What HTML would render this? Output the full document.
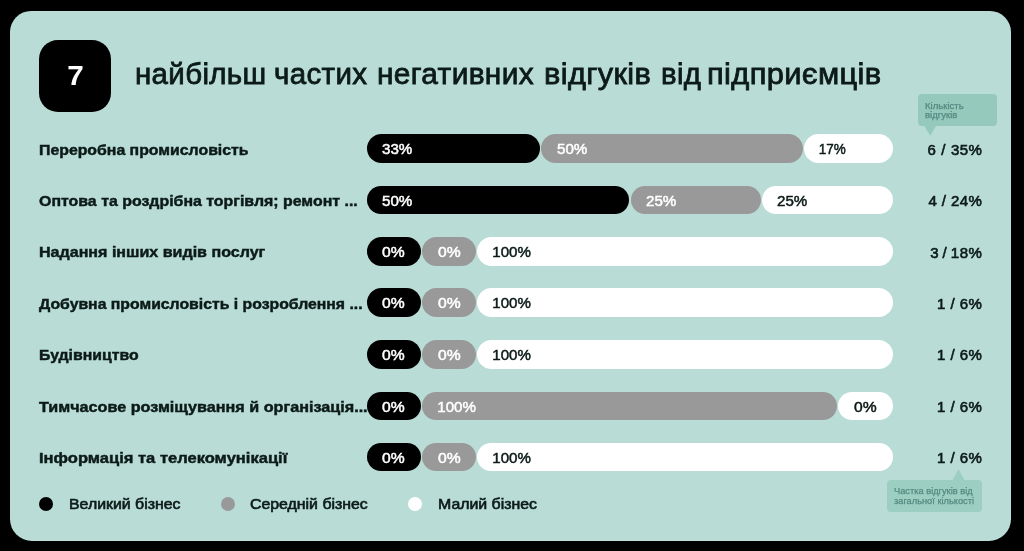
<!DOCTYPE html>
<html lang="uk">
<head>
<meta charset="utf-8">
<title>найбільш частих негативних відгуків від підприємців</title>
<style>
  html, body { margin: 0; padding: 0; }
  body { width: 1024px; height: 551px; background: #000; overflow: hidden; position: relative;
         font-family: "Liberation Sans", sans-serif; color: #0c1a18; }
  .panel { position: absolute; left: 10.2px; top: 10.6px; width: 1001px; height: 530.5px;
           background: #b9ddd6; border-radius: 21px 21px 22px 22px; }
  .num { position: absolute; left: 38.8px; top: 39.7px; width: 72px; height: 72px; background: #000;
         border-radius: 19px; color: #fff; font-weight: bold; font-size: 27px; line-height: 73.6px; text-align: center; }
  .num span { display: inline-block; transform: scaleX(1.1); position: relative; left: 0.8px; }
  .title { position: absolute; left: 135px; top: 54px; margin: 0; font-size: 30px; line-height: 40px; font-weight: normal;
           letter-spacing: 0.355px; white-space: nowrap; -webkit-text-stroke: 0.8px #0c1a18; width: 760px; height: 40px; }
  .title span { position: absolute; top: 0; transform-origin: 0 50%; }
  .row { position: absolute; left: 39px; height: 29px; width: 960px; }
  .label { position: absolute; left: 0; top: 1.4px; font-weight: bold; font-size: 14.6px; line-height: 29px; white-space: nowrap;
           transform: scaleX(1.083); transform-origin: 0 50%; -webkit-text-stroke: 0.45px #0c1a18; }
  .bar { position: absolute; left: 0; top: 0.1px; width: 960px; height: 28.7px; }
  .seg { position: absolute; top: 0; height: 28.7px; border-radius: 14.5px; box-sizing: border-box; padding-left: 15.8px;
         font-size: 14.5px; line-height: 30.8px; -webkit-text-stroke: 0.48px; white-space: nowrap; }
  .seg span { display: inline-block; transform-origin: 0 50%; }
  .z span { transform: scaleX(1.08); }
  .m span { transform: scaleX(1.045); }
  .h span { transform: translateX(-0.7px) scaleX(1.04); }
  .b { background: #000; color: #fff; }
  .g { background: #999; color: #fff; }
  .w { background: #fff; color: #0c1a18; }
  .stat { position: absolute; right: 16.6px; top: 0.6px; font-size: 15px; line-height: 29px; letter-spacing: 0.5px; word-spacing: 0.3px; white-space: nowrap; -webkit-text-stroke: 0.62px #0c1a18; }
  .legend { position: absolute; top: 497px; height: 14px; }
  .dot { position: absolute; width: 14px; height: 14px; border-radius: 50%; top: 497.1px; }
  .lt { position: absolute; top: 494px; font-size: 14.7px; line-height: 20px; white-space: nowrap;
        transform: scaleX(1.08); transform-origin: 0 50%; -webkit-text-stroke: 0.62px #0c1a18; }
  .tip { position: absolute; background: #94c9bc; border-radius: 4px; color: #548a80; font-size: 9px; line-height: 9.3px; -webkit-text-stroke: 0.25px #548a80; }
  .tip i { position: absolute; display: block; }
</style>
</head>
<body>
<div class="panel"></div>
<div class="num"><span>7</span></div>
<h1 class="title"><span style="left:-0.5px;transform:scaleX(0.982)">найбільш</span> <span style="left:138.6px;transform:scaleX(0.983)">частих</span> <span style="left:241.5px;transform:scaleX(0.994)">негативних</span> <span style="left:409.0px;transform:scaleX(1.0245)">відгуків</span> <span style="left:525.6px;transform:scaleX(0.977)">від</span> <span style="left:572.0px;transform:scaleX(1.028)">підприємців</span></h1>

<div class="row" style="top:134.25px">
  <div class="label" style="transform:scaleX(1.0856)">Переробна промисловість</div>
  <div class="bar"><div class="seg b m" style="left:327.7px;width:173.6px"><span>33%</span></div><div class="seg g m" style="left:502.4px;width:261.5px"><span>50%</span></div><div class="seg w m" style="left:765.0px;width:88.6px"><span style="transform:translateX(-1.2px) scaleX(0.93)">17%</span></div></div>
  <div class="stat">6 / 35%</div>
</div>
<div class="row" style="top:185.6px">
  <div class="label" style="transform:scaleX(1.0902)">Оптова та роздрібна торгівля; ремонт ...</div>
  <div class="bar"><div class="seg b m" style="left:327.7px;width:262.8px"><span>50%</span></div><div class="seg g m" style="left:591.6px;width:130.0px"><span>25%</span></div><div class="seg w m" style="left:722.7px;width:130.9px"><span>25%</span></div></div>
  <div class="stat" style="word-spacing:-0.2px">4 / 24%</div>
</div>
<div class="row" style="top:237px">
  <div class="label" style="transform:scaleX(1.1006)">Надання інших видів послуг</div>
  <div class="bar"><div class="seg b z" style="left:327.7px;width:54.6px"><span>0%</span></div><div class="seg g z" style="left:383.4px;width:53.8px"><span>0%</span></div><div class="seg w h" style="left:438.2px;width:415.4px"><span>100%</span></div></div>
  <div class="stat" style="word-spacing:-1.05px">3 / 18%</div>
</div>
<div class="row" style="top:288.4px">
  <div class="label" style="transform:scaleX(1.082)">Добувна промисловість і розроблення ...</div>
  <div class="bar"><div class="seg b z" style="left:327.7px;width:54.6px"><span>0%</span></div><div class="seg g z" style="left:383.4px;width:53.8px"><span>0%</span></div><div class="seg w h" style="left:438.2px;width:415.4px"><span>100%</span></div></div>
  <div class="stat" style="word-spacing:-0.1px">1 / 6%</div>
</div>
<div class="row" style="top:339.75px">
  <div class="label" style="transform:scaleX(1.083)">Будівництво</div>
  <div class="bar"><div class="seg b z" style="left:327.7px;width:54.6px"><span>0%</span></div><div class="seg g z" style="left:383.4px;width:53.8px"><span>0%</span></div><div class="seg w h" style="left:438.2px;width:415.4px"><span>100%</span></div></div>
  <div class="stat" style="word-spacing:-0.1px">1 / 6%</div>
</div>
<div class="row" style="top:391.5px">
  <div class="label" style="transform:scaleX(1.1087)">Тимчасове розміщування й організація...</div>
  <div class="bar"><div class="seg b z" style="left:327.7px;width:54.6px"><span>0%</span></div><div class="seg g h" style="left:383.4px;width:414.7px"><span>100%</span></div><div class="seg w z" style="left:799.1px;width:54.5px"><span>0%</span></div></div>
  <div class="stat" style="word-spacing:-0.1px">1 / 6%</div>
</div>
<div class="row" style="top:442.5px">
  <div class="label" style="transform:scaleX(1.133)">Інформація та телекомунікації</div>
  <div class="bar"><div class="seg b z" style="left:327.7px;width:54.6px"><span>0%</span></div><div class="seg g z" style="left:383.4px;width:53.8px"><span>0%</span></div><div class="seg w h" style="left:438.2px;width:415.4px"><span>100%</span></div></div>
  <div class="stat" style="word-spacing:-0.1px">1 / 6%</div>
</div>

<div class="dot" style="left:39px;background:#000"></div><div class="lt" style="left:68.8px">Великий бізнес</div>
<div class="dot" style="left:221px;background:#999"></div><div class="lt" style="left:250px">Середній бізнес</div>
<div class="dot" style="left:408px;background:#fff"></div><div class="lt" style="left:438.2px">Малий бізнес</div>

<div class="tip" style="left:918px;top:94.3px;width:79px;height:32.2px;">
  <div style="position:absolute;left:6.8px;top:7.4px;font-size:8.3px;line-height:9.3px;transform:scaleX(1.15);transform-origin:0 50%;white-space:nowrap;">Кількість<br>відгуків</div>
  <i style="left:6.4px;top:31.7px;width:11.6px;height:9.8px;background:#94c9bc;clip-path:polygon(0 0,100% 0,50% 100%);"></i>
</div>
<div class="tip" style="left:887.3px;top:479.6px;width:94.6px;height:32px;background:#9ccec2;">
  <div style="position:absolute;left:6.6px;top:7.6px;font-size:9px;line-height:9.9px;transform:scaleX(1.03);transform-origin:0 50%;white-space:nowrap;">Частка відгуків від<br>загальної кількості</div>
  <i style="left:65.3px;top:-10.6px;width:11.8px;height:11.1px;background:#9ccec2;clip-path:polygon(50% 0,100% 100%,0 100%);"></i>
</div>
</body>
</html>
